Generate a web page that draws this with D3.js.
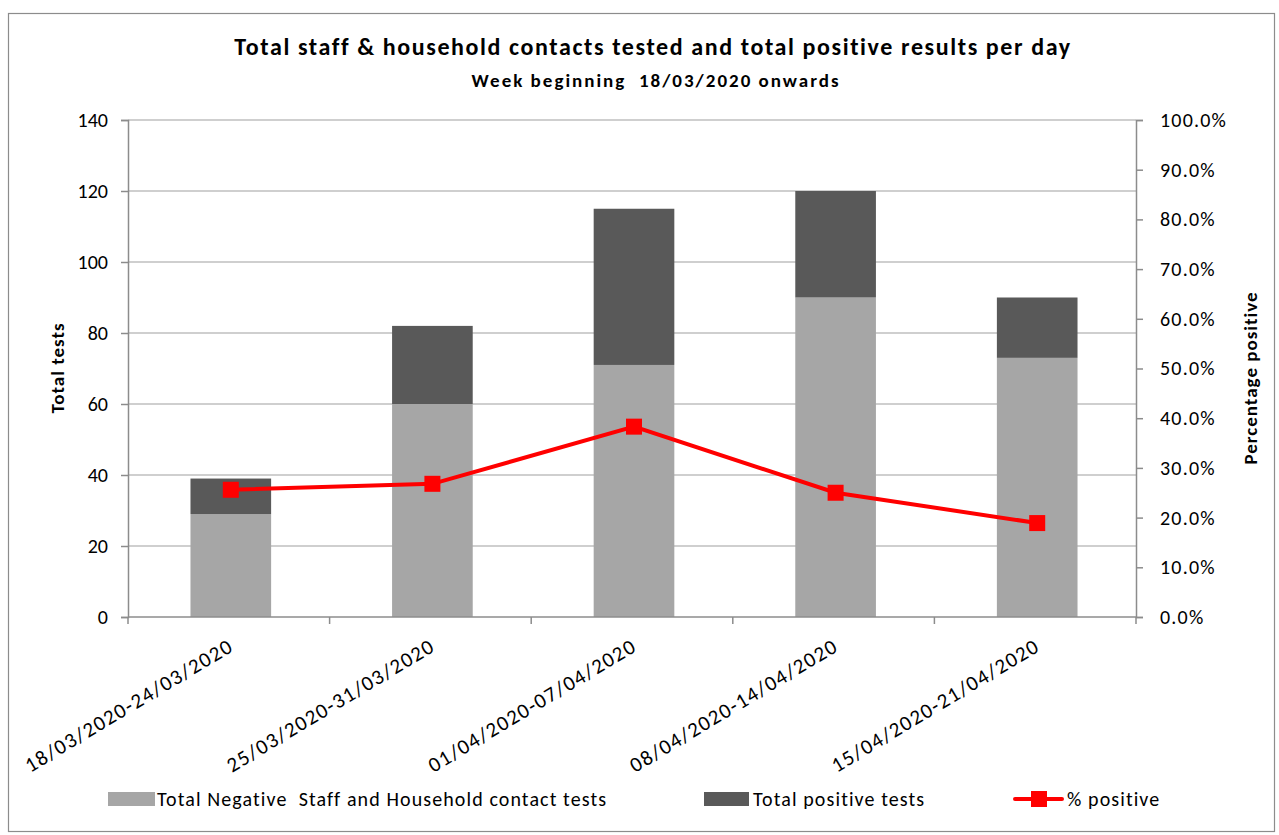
<!DOCTYPE html>
<html>
<head>
<meta charset="utf-8">
<script src="https://cdn.jsdelivr.net/npm/d3@7"></script>
<style>
  body { margin: 0; background: #fff; }
  text { font-family: Carlito, Lato, "Liberation Sans", sans-serif; fill: #000; white-space: pre; }
</style>
</head>
<body>
<svg id="chart"></svg>
<script>
// week ranges on the x axis
const weeks = ["18/03/2020-24/03/2020", "25/03/2020-31/03/2020", "01/04/2020-07/04/2020",
               "08/04/2020-14/04/2020", "15/04/2020-21/04/2020"];
const negativeTests = [29, 60, 71, 90, 73];
const positiveTests = [10, 22, 44, 30, 17];
const pctPositive = [25.6, 26.8, 38.3, 25.0, 18.9];

const leftTicks = [0, 20, 40, 60, 80, 100, 120, 140];
const rightTicks = [0, 10, 20, 30, 40, 50, 60, 70, 80, 90, 100];

drawChart();

function drawChart() {
    const width = 1279, height = 835;
    const plot = { left: 128, right: 1136, top: 120, bottom: 617 };

    const svg = d3.select("#chart")
                    .attr("width", width)
                    .attr("height", height);

    // outer frame
    svg.append("rect")
        .attr("x", 8.5).attr("y", 13.5)
        .attr("width", 1266).attr("height", 818)
        .attr("fill", "#fff")
        .attr("stroke", "#8c8c8c")
        .attr("stroke-width", 1.2);

    const xScale = d3.scaleBand()
                        .domain(weeks)
                        .range([plot.left + 2, plot.right + 2])
                        .paddingInner(0.6)
                        .paddingOuter(0.3);

    const yScale = d3.scaleLinear()
                        .domain([0, 140])
                        .range([plot.bottom, plot.top]);

    const pScale = d3.scaleLinear()
                        .domain([0, 100])
                        .range([plot.bottom, plot.top]);

    // gridlines
    svg.append("g")
        .selectAll("line")
        .data(leftTicks.slice(1))
        .enter()
        .append("line")
        .attr("x1", plot.left).attr("x2", plot.right)
        .attr("y1", d => yScale(d)).attr("y2", d => yScale(d))
        .attr("stroke", "#a0a0a0")
        .attr("stroke-width", 1.2);

    // stacked bars
    const bars = svg.append("g");
    bars.selectAll(".neg")
        .data(weeks)
        .enter()
        .append("rect")
        .attr("class", "neg")
        .attr("x", d => xScale(d))
        .attr("width", xScale.bandwidth())
        .attr("y", (d, i) => yScale(negativeTests[i]))
        .attr("height", (d, i) => yScale(0) - yScale(negativeTests[i]))
        .attr("fill", "#a6a6a6");

    bars.selectAll(".pos")
        .data(weeks)
        .enter()
        .append("rect")
        .attr("class", "pos")
        .attr("x", d => xScale(d))
        .attr("width", xScale.bandwidth())
        .attr("y", (d, i) => yScale(negativeTests[i] + positiveTests[i]))
        .attr("height", (d, i) => yScale(negativeTests[i]) - yScale(negativeTests[i] + positiveTests[i]))
        .attr("fill", "#595959");

    // axes
    const leftAxis = d3.axisLeft(yScale).tickValues(leftTicks).tickSizeOuter(0).tickSize(7).tickPadding(13);
    const rightAxis = d3.axisRight(pScale).tickValues(rightTicks).tickSizeOuter(0).tickSize(7).tickPadding(17)
                        .tickFormat(d => d.toFixed(1) + "%");

    const gl = svg.append("g")
        .attr("transform", `translate(${plot.left}, 0)`)
        .call(leftAxis);
    const gr = svg.append("g")
        .attr("transform", `translate(${plot.right}, 0)`)
        .call(rightAxis);

    [gl, gr].forEach(g => {
        g.select(".domain").attr("stroke", "#8c8c8c").attr("stroke-width", 1.5);
        g.selectAll(".tick line").attr("stroke", "#8c8c8c").attr("stroke-width", 1.5);
        g.selectAll(".tick text").style("font-size", "20px").attr("fill", "#000");
    });
    gr.selectAll(".tick text").style("letter-spacing", "1.2px");

    // x axis baseline and category boundary ticks
    const xa = svg.append("g");
    xa.append("line")
        .attr("x1", plot.left).attr("x2", plot.right)
        .attr("y1", plot.bottom).attr("y2", plot.bottom)
        .attr("stroke", "#8c8c8c").attr("stroke-width", 1.5);
    const step = (plot.right - plot.left) / weeks.length;
    xa.selectAll(".xt")
        .data(d3.range(weeks.length + 1))
        .enter()
        .append("line")
        .attr("x1", i => plot.left + i * step).attr("x2", i => plot.left + i * step)
        .attr("y1", plot.bottom).attr("y2", plot.bottom + 7)
        .attr("stroke", "#8c8c8c").attr("stroke-width", 1.5);

    xa.selectAll(".xl")
        .data(weeks)
        .enter()
        .append("text")
        .attr("transform", d => `translate(${xScale(d) + xScale.bandwidth() / 2 + 4}, ${plot.bottom + 33}) rotate(-31)`)
        .attr("text-anchor", "end")
        .style("font-size", "21px")
        .style("letter-spacing", "1.4px")
        .text(d => d);

    // % positive line
    const line = d3.line()
                    .x((d, i) => xScale(weeks[i]) + xScale.bandwidth() / 2)
                    .y(d => pScale(d));

    svg.append("path")
        .datum(pctPositive)
        .attr("d", line)
        .attr("fill", "none")
        .attr("stroke", "#ff0000")
        .attr("stroke-width", 4);

    svg.selectAll(".marker")
        .data(pctPositive)
        .enter()
        .append("rect")
        .attr("x", (d, i) => xScale(weeks[i]) + xScale.bandwidth() / 2 - 8)
        .attr("y", d => pScale(d) - 8)
        .attr("width", 16).attr("height", 16)
        .attr("fill", "#ff0000");

    // titles
    svg.append("text")
        .attr("x", 653).attr("y", 55)
        .attr("text-anchor", "middle")
        .style("font-size", "24px").style("font-weight", "bold")
        .style("letter-spacing", "1.6px")
        .text("Total staff & household contacts tested and total positive results per day");
    svg.append("text")
        .attr("x", 656).attr("y", 87)
        .attr("text-anchor", "middle")
        .style("font-size", "19px").style("font-weight", "bold")
        .style("letter-spacing", "2px")
        .text("Week beginning  18/03/2020 onwards");

    svg.append("text")
        .attr("transform", "translate(64, 368) rotate(-90)")
        .attr("text-anchor", "middle")
        .style("font-size", "19px").style("font-weight", "bold")
        .style("letter-spacing", "1px")
        .text("Total tests");
    svg.append("text")
        .attr("transform", "translate(1257, 378) rotate(-90)")
        .attr("text-anchor", "middle")
        .style("font-size", "19px").style("font-weight", "bold")
        .style("letter-spacing", "1px")
        .text("Percentage positive");

    // legend
    const legend = svg.append("g").attr("transform", "translate(0, 799)");
    legend.append("rect").attr("x", 108).attr("y", -7).attr("width", 47).attr("height", 14).attr("fill", "#a6a6a6");
    legend.append("text").attr("x", 157).attr("y", 7).style("font-size", "20px").style("letter-spacing", "1.1px")
        .text("Total Negative  Staff and Household contact tests");
    legend.append("rect").attr("x", 704).attr("y", -7).attr("width", 45).attr("height", 14).attr("fill", "#595959");
    legend.append("text").attr("x", 753).attr("y", 7).style("font-size", "20px").style("letter-spacing", "1.1px")
        .text("Total positive tests");
    legend.append("line").attr("x1", 1015).attr("x2", 1062).attr("y1", 0).attr("y2", 0)
        .attr("stroke", "#ff0000").attr("stroke-width", 4).attr("stroke-linecap", "round");
    legend.append("rect").attr("x", 1031).attr("y", -8).attr("width", 16).attr("height", 16).attr("fill", "#ff0000");
    legend.append("text").attr("x", 1067).attr("y", 7).style("font-size", "20px").style("letter-spacing", "1.1px")
        .text("% positive");
}
</script>
</body>
</html>
